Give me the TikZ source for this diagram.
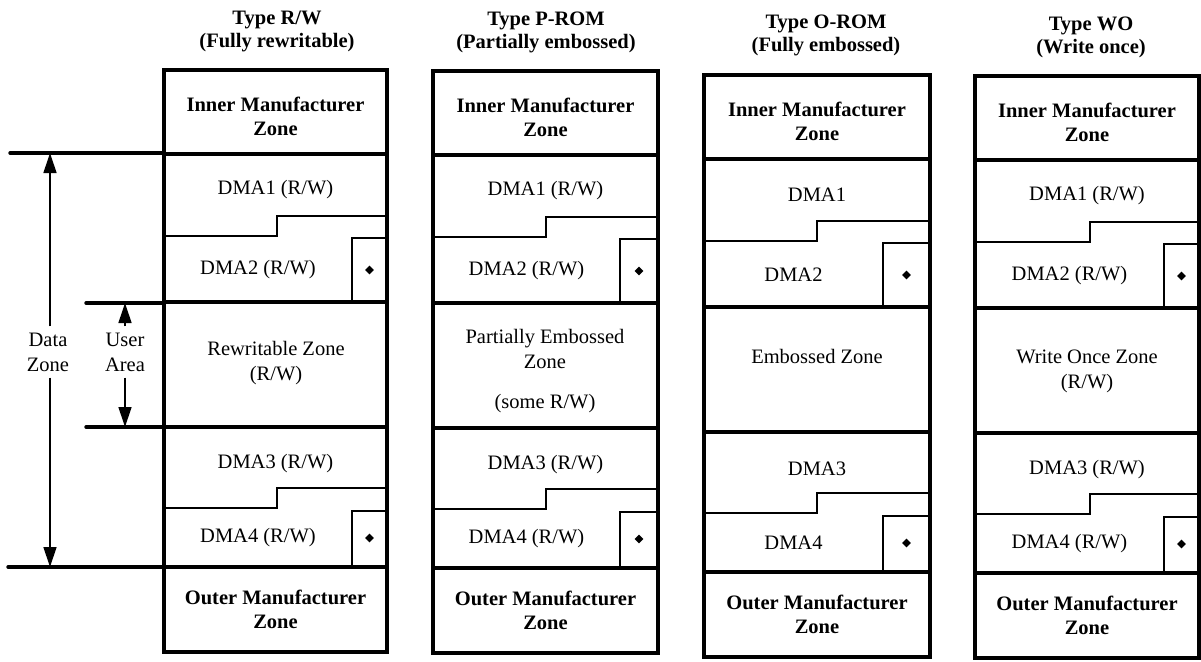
\documentclass[tikz,border=0pt]{standalone}
\usepackage{fontspec}
\setmainfont{Liberation Serif}
\usetikzlibrary{arrows.meta,shapes.geometric}
\tikzset{
  outerline/.style={line width=3.6pt},
  zoneline/.style={line width=3.2pt},
  stepline/.style={line width=2.8pt},
  boxline/.style={line width=2.2pt},
  sideline/.style={line width=3.4pt, line cap=round},
  dimarrow/.style={line width=1.3pt, -{Triangle[width=13pt,length=20pt]}},
  hdr/.style={font=\fontsize{20.5}{23}\selectfont\bfseries, align=center, inner sep=0pt},
  mfr/.style={font=\fontsize{20.5}{24}\selectfont\bfseries, align=center, inner sep=0pt},
  lbl/.style={font=\fontsize{20.5}{25}\selectfont, align=center, inner sep=0pt},
  dotmark/.style={diamond, fill, inner sep=0pt, minimum size=9pt},
}
% #1 prefix, #2 left, #3 right, #4 top, #5 step x, #6 small box x, #7 DMA suffix
\newcommand{\zonecolumn}[7]{%
  \begin{scope}[yshift=-#4pt]
    \draw[outerline] (#2,0) rectangle (#3,582);
    \draw[zoneline] (#2,84) -- (#3,84);
    \draw[stepline] (#2,166) -- (#5,166) -- (#5,146) -- (#3,146);
    \draw[boxline] (#6,232) -- (#6,168) -- (#3,168);
    \draw[zoneline] (#2,232) -- (#3,232);
    \draw[zoneline] (#2,357) -- (#3,357);
    \draw[stepline] (#2,438) -- (#5,438) -- (#5,418) -- (#3,418);
    \draw[boxline] (#6,497) -- (#6,441) -- (#3,441);
    \draw[zoneline] (#2,497) -- (#3,497);
    \node[mfr] (#1inner) at ({(#2+#3)/2},46) {Inner Manufacturer\\Zone};
    \node[lbl] (#1dmaA) at ({(#2+#3)/2},120) {DMA1#7};
    \node[lbl] (#1dmaB) at ({(#2+#6)/2},200) {DMA2#7};
    \node[dotmark] (#1dotB) at ({(#6+#3)/2},200) {};
    \node[lbl] (#1dmaC) at ({(#2+#3)/2},394) {DMA3#7};
    \node[lbl] (#1dmaD) at ({(#2+#6)/2},468) {DMA4#7};
    \node[dotmark] (#1dotD) at ({(#6+#3)/2},468) {};
    \node[mfr] (#1outer) at ({(#2+#3)/2},539) {Outer Manufacturer\\Zone};
  \end{scope}}
\begin{document}
\begin{tikzpicture}[x=1pt,y=-1pt]
  \fill[white] (0,0) rectangle (1201,661);
  \useasboundingbox (0,0) rectangle (1201,661);

  % headers
  \node[hdr] (hA) at (277,31) {Type R/W\\(Fully rewritable)};
  \node[hdr] (hB) at (546,32) {Type P-ROM\\(Partially embossed)};
  \node[hdr] (hC) at (826,35) {Type O-ROM\\(Fully embossed)};
  \node[hdr] (hD) at (1091,37) {Type WO\\(Write once)};

  % columns
  \zonecolumn{cA}{164}{387}{70}{277}{352}{ (R/W)}
  \zonecolumn{cB}{433}{658}{71}{546}{620}{ (R/W)}
  \zonecolumn{cC}{704}{930}{75}{817}{883}{}
  \zonecolumn{cD}{975}{1199}{76}{1090}{1164}{ (R/W)}

  % main zone labels
  \node[lbl] (zA) at (276,363) {Rewritable Zone\\(R/W)};
  \node[lbl] (zB) at (545,371) {Partially Embossed\\Zone\\[15pt](some R/W)};
  \node[lbl] (zC) at (817,356) {Embossed Zone};
  \node[lbl] (zD) at (1087,371) {Write Once Zone\\(R/W)};

  % side markers
  \coordinate (sTopL) at (10,153);  \coordinate (sTopR) at (164,153);
  \coordinate (sUpL) at (86,303);   \coordinate (sUpR) at (164,303);
  \coordinate (sLoL) at (86,427);   \coordinate (sLoR) at (164,427);
  \coordinate (sBotL) at (8,567);   \coordinate (sBotR) at (164,567);
  \draw[sideline] (sTopL) -- (sTopR);
  \draw[sideline] (sUpL) -- (sUpR);
  \draw[sideline] (sLoL) -- (sLoR);
  \draw[sideline] (sBotL) -- (sBotR);

  \coordinate (dzTop) at (50,153);  \coordinate (dzBot) at (50,567);
  \coordinate (uaTop) at (125,303); \coordinate (uaBot) at (125,427);
  \node[lbl, inner sep=6pt] (dz) at (48,352) {Data\\Zone};
  \node[lbl, inner sep=6pt] (ua) at (125,352) {User\\Area};
  \draw[dimarrow] (dz.north -| dzTop) -- (dzTop);
  \draw[dimarrow] (dz.south -| dzBot) -- (dzBot);
  \draw[dimarrow] (ua.north -| uaTop) -- (uaTop);
  \draw[dimarrow] (ua.south -| uaBot) -- (uaBot);
\end{tikzpicture}
\end{document}
